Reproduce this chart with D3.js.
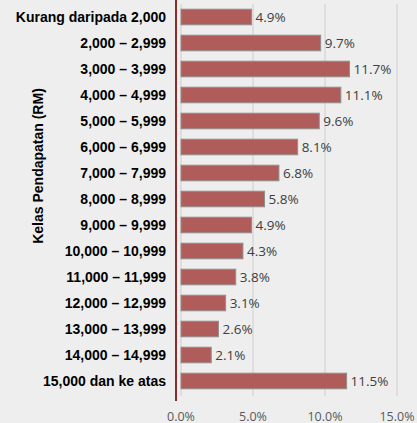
<!DOCTYPE html>
<html>
<head>
<meta charset="utf-8">
<script src="https://cdn.jsdelivr.net/npm/d3@7"></script>
<style>
  html, body { margin: 0; padding: 0; background: #eeeeee; }
</style>
</head>
<body>
<div id="chart"></div>
<script>
const categories = [
  "Kurang daripada 2,000", "2,000 – 2,999", "3,000 – 3,999", "4,000 – 4,999",
  "5,000 – 5,999", "6,000 – 6,999", "7,000 – 7,999", "8,000 – 8,999",
  "9,000 – 9,999", "10,000 – 10,999", "11,000 – 11,999", "12,000 – 12,999",
  "13,000 – 13,999", "14,000 – 14,999", "15,000 dan ke atas"
];
const values = [4.9, 9.7, 11.7, 11.1, 9.6, 8.1, 6.8, 5.8, 4.9, 4.3, 3.8, 3.1, 2.6, 2.1, 11.5];
const xTicks = [0, 5, 10, 15];
const yTitle = "Kelas Pendapatan (RM)";

const W = 417, H = 423;
const svg = d3.select("#chart").append("svg")
    .attr("width", W)
    .attr("height", H)
    .style("display", "block");

svg.append("rect").attr("width", W).attr("height", H).attr("fill", "#eeeeee");

const x = d3.scaleLinear().domain([0, 15]).range([181, 397]);
const y = d3.scaleBand().domain(categories).range([4, 394]).paddingInner(0.4).paddingOuter(0.2);

// Gridlines
svg.append("g").selectAll("line")
  .data(xTicks)
  .join("line")
    .attr("x1", d => x(d))
    .attr("x2", d => x(d))
    .attr("y1", 4)
    .attr("y2", 396)
    .attr("stroke", "#d9d9d9")
    .attr("stroke-width", 1.5);

// Bars
svg.append("g").selectAll("rect")
  .data(values)
  .join("rect")
    .attr("x", x(0))
    .attr("y", (d, i) => y(categories[i]))
    .attr("width", d => x(d) - x(0))
    .attr("height", y.bandwidth())
    .attr("fill", "#b05c5a")
    .attr("stroke", "#8f8f8f")
    .attr("stroke-width", 1);

// Value labels
svg.append("g").selectAll("text")
  .data(values)
  .join("text")
    .attr("x", d => x(d) + 4)
    .attr("y", (d, i) => y(categories[i]) + y.bandwidth() / 2)
    .attr("dominant-baseline", "central")
    .attr("font-family", "'Open Sans', sans-serif")
    .attr("font-size", "13.5px")
    .attr("fill", "#404040")
    .text(d => d.toFixed(1) + "%");

// Red axis line
svg.append("line")
    .attr("x1", 176).attr("x2", 176)
    .attr("y1", 0).attr("y2", 401)
    .attr("stroke", "#8b2c2a")
    .attr("stroke-width", 2);

// Category labels
svg.append("g").selectAll("text")
  .data(categories)
  .join("text")
    .attr("x", 166)
    .attr("y", d => y(d) + y.bandwidth() / 2)
    .attr("text-anchor", "end")
    .attr("dominant-baseline", "central")
    .attr("font-family", "'Liberation Sans', Arial, sans-serif")
    .attr("font-weight", "bold")
    .attr("font-size", "14px")
    .attr("fill", "#000")
    .text(d => d);

// X tick labels
svg.append("g").selectAll("text")
  .data(xTicks)
  .join("text")
    .attr("x", d => x(d))
    .attr("y", 416)
    .attr("text-anchor", "middle")
    .attr("dominant-baseline", "central")
    .attr("font-family", "'Open Sans', sans-serif")
    .attr("font-size", "12.5px")
    .attr("fill", "#595959")
    .text(d => d.toFixed(1) + "%");

// Y title
svg.append("text")
    .attr("transform", "translate(38,166) rotate(-90)")
    .attr("text-anchor", "middle")
    .attr("dominant-baseline", "central")
    .attr("font-family", "'Liberation Sans', Arial, sans-serif")
    .attr("font-weight", "bold")
    .attr("font-size", "14px")
    .attr("fill", "#000")
    .text(yTitle);
</script>
</body>
</html>
